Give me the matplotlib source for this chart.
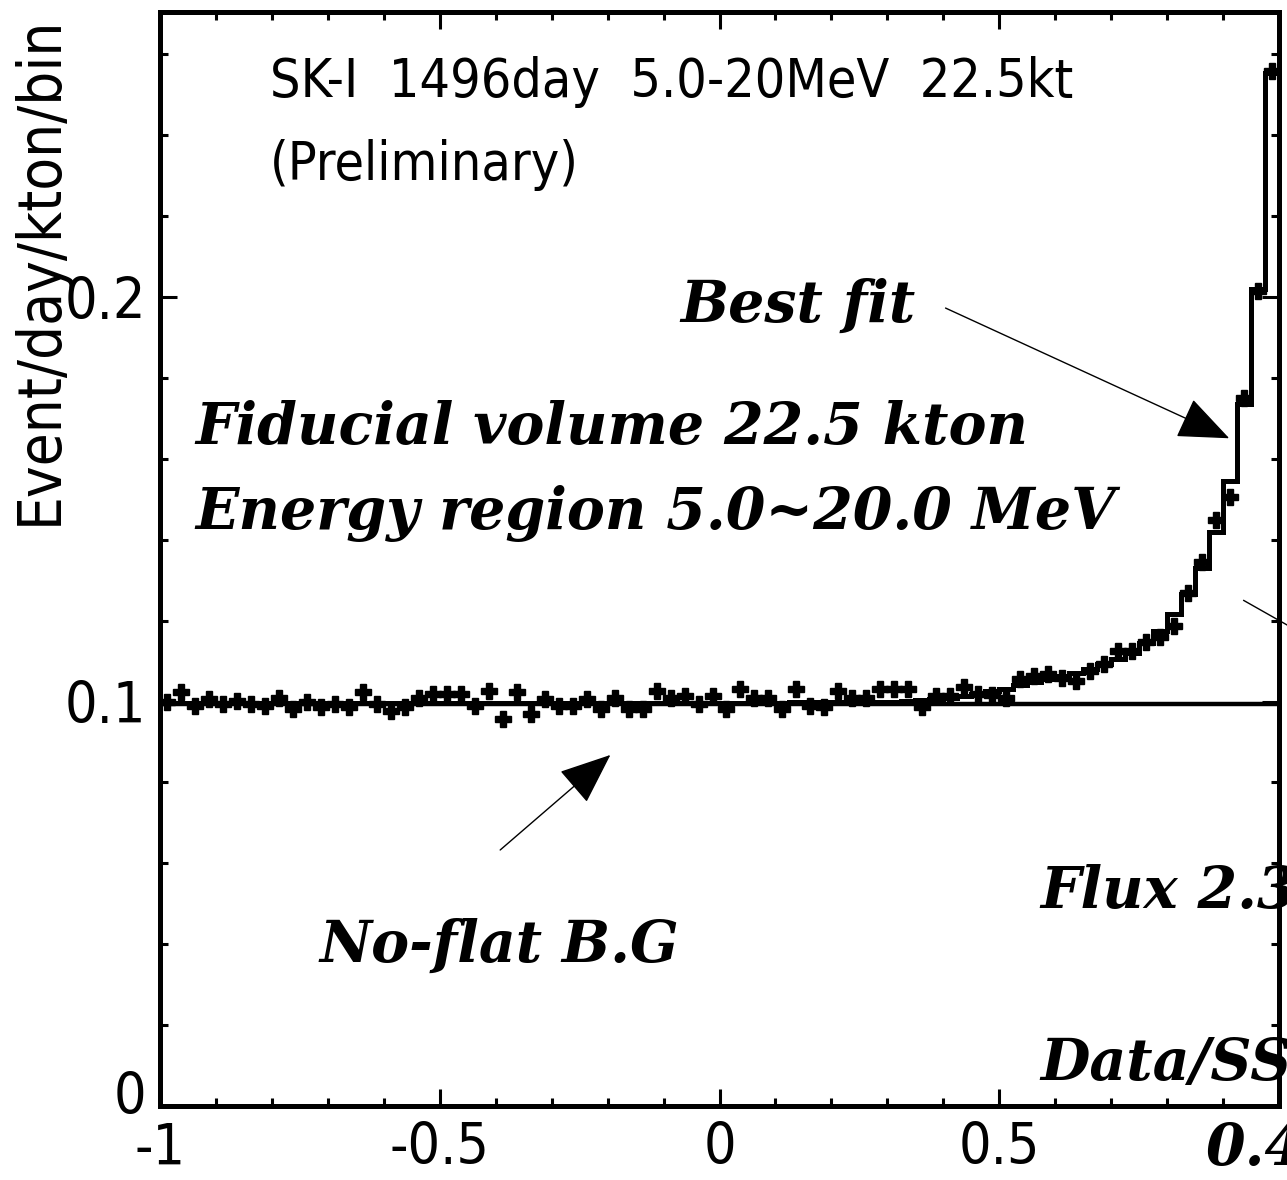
import numpy as np
import matplotlib
matplotlib.use('Agg')
import matplotlib.pyplot as plt
import matplotlib.transforms as mtransforms
from matplotlib import font_manager
from matplotlib.font_manager import FontProperties
from matplotlib.ticker import MultipleLocator

# ---------------- data ----------------
bin_edges = np.linspace(-1.0, 1.0, 81)
bin_centers = 0.5 * (bin_edges[:-1] + bin_edges[1:])

data_values = [
    0.0998, 0.1023, 0.0990, 0.1006, 0.0994, 0.1002, 0.0994, 0.0990, 0.1010, 0.0982,
    0.0998, 0.0986, 0.0994, 0.0986, 0.1023, 0.0994, 0.0977, 0.0986, 0.1010, 0.1019,
    0.1019, 0.1019, 0.0990, 0.1027, 0.0957, 0.1023, 0.0969, 0.1006, 0.0990, 0.0990,
    0.1006, 0.0982, 0.1010, 0.0982, 0.0982, 0.1027, 0.1010, 0.1014, 0.0994, 0.1014,
    0.0982, 0.1031, 0.1010, 0.1010, 0.0982, 0.1031, 0.0990, 0.0986, 0.1027, 0.1010,
    0.1010, 0.1031, 0.1031, 0.1031, 0.0986, 0.1014, 0.1014, 0.1035, 0.1019, 0.1015,
    0.1008, 0.1055, 0.1062, 0.1068, 0.1058, 0.1050, 0.1075, 0.1092, 0.1125, 0.1125,
    0.1148, 0.1160, 0.1188, 0.1268, 0.1345, 0.1449, 0.1506, 0.1750, 0.2015, 0.2560,
]

fit_values = [
    0.0996, 0.0996, 0.0996, 0.0996, 0.0996, 0.0996, 0.0996, 0.0996, 0.0996, 0.0996,
    0.0996, 0.0996, 0.0996, 0.0996, 0.0996, 0.0996, 0.0996, 0.0996, 0.0996, 0.0996,
    0.0996, 0.0996, 0.0996, 0.0996, 0.0996, 0.0996, 0.0996, 0.0996, 0.0996, 0.0996,
    0.0997, 0.0997, 0.0997, 0.0997, 0.0997, 0.0997, 0.0997, 0.0997, 0.0997, 0.0997,
    0.0997, 0.0997, 0.0997, 0.0997, 0.0997, 0.0998, 0.0998, 0.0998, 0.0998, 0.0998,
    0.0999, 0.0999, 0.0999, 0.1001, 0.1004, 0.1007, 0.1010, 0.1014, 0.1019, 0.1025,
    0.1032, 0.1040, 0.1048, 0.1055, 0.1062, 0.1070, 0.1080, 0.1092, 0.1105, 0.1120,
    0.1145, 0.1175, 0.1217, 0.1267, 0.1330, 0.1420, 0.1546, 0.1736, 0.2020, 0.2555,
]

bg_level = 0.0995

x_ticks = [-1, -0.5, 0, 0.5]
x_tick_labels = ['-1', '-0.5', '0', '0.5']
y_ticks = [0, 0.1, 0.2]
y_tick_labels = ['0', '0.1', '0.2']

# ---------------- fonts ----------------
cond = None
for f in font_manager.fontManager.ttflist:
    nm = f.name.lower()
    if f.style != 'normal':
        continue
    if f.weight not in (400, 'normal', 'regular', 'book'):
        continue
    if 'serif' in nm and 'sans' not in nm:
        continue
    if 'mono' in nm:
        continue
    if 'narrow' in nm or 'condensed' in nm or str(f.stretch) in ('condensed', 'semi-condensed', 'extra-condensed'):
        cond = f.fname
        break

if cond is not None:
    def sans(size):
        return FontProperties(fname=cond, size=size)
    sans_scale = 1.0
else:
    def sans(size):
        return FontProperties(family='Liberation Sans', size=size)
    sans_scale = 0.85

SERIF = 'DejaVu Serif'

W, H = 1287, 1180
fig = plt.figure(figsize=(W / 100, H / 100), dpi=100)
ax = fig.add_axes([160 / W, 74 / H, (1279 - 160) / W, (1106 - 12) / H])

ax.set_xlim(-1, 1)
ax.set_ylim(0, 0.2705)

# background line
ax.plot([-1, 1], [bg_level, bg_level], color='black', lw=3.2, solid_capstyle='butt', zorder=2)
# best fit histogram
ax.stairs(fit_values, bin_edges, color='black', lw=3.6, zorder=3)
# data points
ax.errorbar(bin_centers, data_values, yerr=0.0013, fmt='P', ms=12, color='black',
            mec='black', ecolor='black', elinewidth=2.5, capsize=0, zorder=4)

# axes style
for sp in ax.spines.values():
    sp.set_linewidth(3.6)
ax.set_xticks(x_ticks)
ax.set_xticklabels(x_tick_labels)
ax.set_yticks(y_ticks)
ax.set_yticklabels(y_tick_labels)
ax.xaxis.set_minor_locator(MultipleLocator(0.1))
ax.yaxis.set_minor_locator(MultipleLocator(0.02))
ax.tick_params(which='both', direction='in', top=True, right=True, width=2.2)
ax.tick_params(which='major', length=12)
ax.tick_params(which='minor', length=6)
fs_tick = 41 * sans_scale
for lab in ax.get_xticklabels() + ax.get_yticklabels():
    lab.set_fontproperties(sans(fs_tick))
ax.tick_params(axis='x', pad=11)
ax.tick_params(axis='y', pad=10)

# lift the "0" y tick label a little, as in the original
zero_lab = ax.get_yticklabels()[0]
zero_lab.set_transform(zero_lab.get_transform() +
                       mtransforms.ScaledTranslation(0, 14 / 100, fig.dpi_scale_trans))

fig.text(40 / W, 1 - 270 / H, 'Event/day/kton/bin', rotation=90, ha='center', va='center',
         fontproperties=sans(43 * sans_scale))

# header texts
fig.text(270 / W, 1 - 97 / H, 'SK-I  1496day  5.0-20MeV  22.5kt', ha='left', va='baseline',
         fontproperties=sans(38.5 * sans_scale))
fig.text(270 / W, 1 - 180 / H, '(Preliminary)', ha='left', va='baseline',
         fontproperties=sans(38.5 * sans_scale))

serif_kw = dict(family=SERIF, fontweight='bold', fontstyle='italic', fontsize=41)
fig.text(680 / W, 1 - 322 / H, 'Best fit', ha='left', va='baseline', **serif_kw)
fig.text(195 / W, 1 - 444 / H, 'Fiducial volume 22.5 kton', ha='left', va='baseline', **serif_kw)
fig.text(195 / W, 1 - 529 / H, 'Energy region 5.0~20.0 MeV', ha='left', va='baseline', **serif_kw)
fig.text(320 / W, 1 - 962 / H, 'No-flat B.G', ha='left', va='baseline', **serif_kw)
fig.text(1040 / W, 1 - 908 / H, 'Flux 2.3', ha='left', va='baseline', **serif_kw)
fig.text(1040 / W, 1 - 1080 / H, 'Data/SS', ha='left', va='baseline', **serif_kw)
fig.text(1205 / W, 1 - 1165 / H, '0.4', ha='left', va='baseline', **serif_kw)

# arrows
arrow_kw = dict(arrowstyle='-|>,head_length=1.1,head_width=0.45', lw=1.0, color='black',
                mutation_scale=30, shrinkA=0, shrinkB=0)
ax.annotate('', xy=(0.911, 0.1651), xytext=(0.404, 0.1973), arrowprops=arrow_kw)
ax.annotate('', xy=(-0.195, 0.0868), xytext=(-0.392, 0.0633), arrowprops=arrow_kw)
ax.plot([0.937, 1.02], [0.125, 0.1185], color='black', lw=1.0, clip_on=False)

fig.savefig('out.png', dpi=100)
